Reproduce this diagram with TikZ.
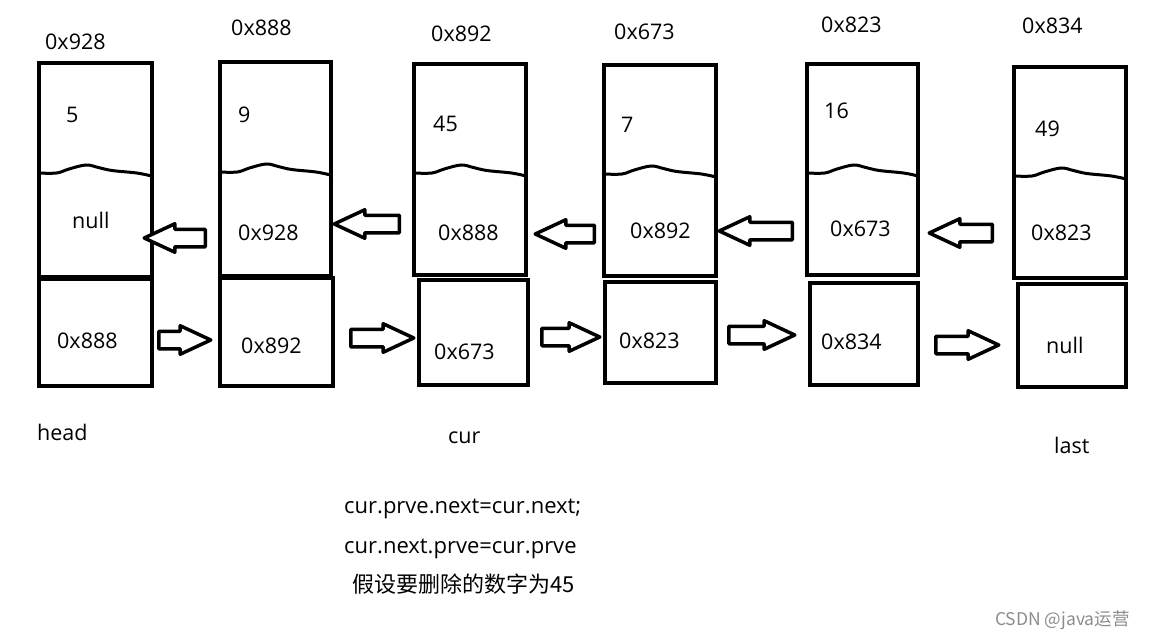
\documentclass[tikz,border=0pt]{standalone}
\usepackage{fontspec}
\setmainfont{Open Sans}
\newfontfamily\cjk{Noto Sans CJK SC}
\usetikzlibrary{fit,shapes.arrows}
\definecolor{wmgray}{RGB}{140,140,140}
\newcommand\wavy[3]{\draw[wave] plot[smooth, tension=0.6] coordinates {(#1,#3) ({#1+0.16*(#2-#1)},#3) ({#1+0.27*(#2-#1)},{#3-4}) ({#1+0.42*(#2-#1)},{#3-8}) ({#1+0.53*(#2-#1)},{#3-5.5}) ({#1+0.65*(#2-#1)},{#3-2.5}) ({#1+0.87*(#2-#1)},{#3}) (#2,{#3+3})};}
\begin{document}
\begin{tikzpicture}[x=1pt,y=-1pt,
  cell/.style={draw, line width=4pt, inner sep=0pt},
  wave/.style={line width=3pt, line cap=round},
  lbl/.style={anchor=base west, inner sep=0pt, font=\fontsize{21.5}{24}\selectfont},
  hollowarrow/.style={single arrow, draw, fill=white, line width=3.5pt, line join=round,
     inner xsep=0pt, inner ysep=7pt, single arrow head extend=5.5pt,
     single arrow tip angle=50, minimum height=#1, anchor=tail},
  leftarrow/.style={hollowarrow=#1, shape border rotate=180},
  rightarrow/.style={hollowarrow=#1}]
\useasboundingbox (0,0) rectangle (1158,640);
% cells
\node[cell, fit={(38.5,63)(151.5,276.5)}] (u1) {};
\node[cell, fit={(38.5,279)(151.5,385.5)}] (l1) {};
\node[cell, fit={(219.5,61.5)(330.5,275.5)}] (u2) {};
\node[cell, fit={(220,278)(332.5,385.5)}] (l2) {};
\node[cell, fit={(414,64)(526,275)}] (u3) {};
\node[cell, fit={(419,280)(528,385)}] (l3) {};
\node[cell, fit={(604,65)(716,276)}] (u4) {};
\node[cell, fit={(605,282)(716,383)}] (l4) {};
\node[cell, fit={(807,64)(918,275)}] (u5) {};
\node[cell, fit={(810,283)(918,385)}] (l5) {};
\node[cell, fit={(1014,67)(1126,278)}] (u6) {};
\node[cell, fit={(1018,284)(1126,387)}] (l6) {};
% wavy separators
\wavy{38.5}{151.5}{173}
\wavy{219.5}{330.5}{172}
\wavy{414}{526}{173}
\wavy{604}{716}{174}
\wavy{807}{918}{173}
\wavy{1014}{1126}{176}
% addresses above
\node[lbl] (ad1) at (45,49) {0x928};
\node[lbl] (ad2) at (231,35) {0x888};
\node[lbl] (ad3) at (431,41) {0x892};
\node[lbl] (ad4) at (614,39) {0x673};
\node[lbl] (ad5) at (821,32) {0x823};
\node[lbl] (ad6) at (1022,33) {0x834};
% values
\node[lbl] (v1) at (66,122) {5};
\node[lbl] (v2) at (238,122) {9};
\node[lbl] (v3) at (433,131) {45};
\node[lbl] (v4) at (621,132) {7};
\node[lbl] (v5) at (824,118) {16};
\node[lbl] (v6) at (1035,136) {49};
% prev fields
\node[lbl] (p1) at (72,228) {null};
\node[lbl] (p2) at (238,240) {0x928};
\node[lbl] (p3) at (438,240) {0x888};
\node[lbl] (p4) at (630,238) {0x892};
\node[lbl] (p5) at (830,236) {0x673};
\node[lbl] (p6) at (1031,240) {0x823};
% next fields
\node[lbl] (n1) at (57,348) {0x888};
\node[lbl] (n2) at (241,353) {0x892};
\node[lbl] (n3) at (434,359) {0x673};
\node[lbl] (n4) at (619,348) {0x823};
\node[lbl] (n5) at (821,349) {0x834};
\node[lbl] (n6) at (1046,353) {null};
% arrows (prev, pointing left), placed by their tails
\node[leftarrow=61] (a1) at (207,238) {};
\node[leftarrow=65] (a2) at (401,224) {};
\node[leftarrow=59] (a3) at (596,234) {};
\node[leftarrow=73] (a4) at (794,231) {};
\node[leftarrow=63] (a5) at (994,233) {};
% arrows (next, pointing right), placed by their tails
\node[rightarrow=52] (b1) at (157,340) {};
\node[rightarrow=63] (b2) at (349,338) {};
\node[rightarrow=58] (b3) at (540,337) {};
\node[rightarrow=66] (b4) at (727,335) {};
\node[rightarrow=63] (b5) at (934,345) {};
% labels below
\node[lbl] (head) at (37,440) {head};
\node[lbl] (cur) at (448,443) {cur};
\node[lbl] (last) at (1054,453) {last};
% code
\node[lbl, font=\fontsize{22}{24}\selectfont] (code1) at (344,513) {cur.prve.next=cur.next;};
\node[lbl, font=\fontsize{22}{24}\selectfont] (code2) at (344,553) {cur.next.prve=cur.prve};
\node[lbl, font=\cjk\fontsize{22}{24}\selectfont] (note) at (352,592) {假设要删除的数字为45};
% watermark
\node[anchor=base west, inner sep=0pt, text=wmgray, font=\cjk\fontsize{17.5}{20}\selectfont] (wm) at (995,625) {CSDN @java运营};
\end{tikzpicture}
\end{document}
